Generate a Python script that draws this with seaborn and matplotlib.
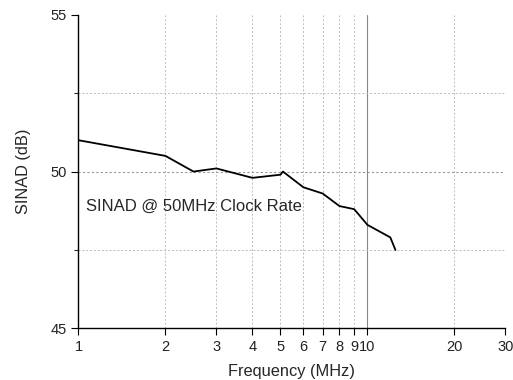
import matplotlib
matplotlib.use("Agg")
import matplotlib.pyplot as plt
import matplotlib.ticker as mticker
import pandas as pd
import seaborn as sns

# SINAD vs input frequency
freq_mhz = [1, 2, 2.5, 3, 4, 5, 5.1, 6, 7, 8, 9, 10, 12, 12.5]
sinad_db = [51.0, 50.5, 50.0, 50.1, 49.8, 49.9, 50.0, 49.5, 49.3, 48.9, 48.8, 48.3, 47.9, 47.5]
x_ticks = [1, 2, 3, 4, 5, 6, 7, 8, 9, 10, 20, 30]
x_ticklabels = ["1", "2", "3", "4", "5", "6", "7", "8", "9", "10", "20", "30"]
y_ticks = [45, 50, 55]
y_minor = [47.5, 52.5]

df = pd.DataFrame({"Frequency": freq_mhz, "SINAD": sinad_db})

sns.set_style("ticks")
plt.rcParams["font.family"] = ["Liberation Sans", "DejaVu Sans"]

fig, ax = plt.subplots(figsize=(5.13, 3.8), dpi=100)
fig.subplots_adjust(left=0.153, right=0.985, top=0.961, bottom=0.136)

# grid lines
for x in [2, 3, 4, 5, 6, 7, 8, 9, 20]:
    ax.axvline(x, color="#bbbbbb", lw=0.7, ls=(0, (2, 2)), zorder=0)
ax.axvline(10, color="#888888", lw=0.8, zorder=0)
for y in y_minor:
    ax.axhline(y, color="#bbbbbb", lw=0.7, ls=(0, (2, 2)), zorder=0)
ax.axhline(50, color="#999999", lw=0.8, ls=(0, (2, 2)), zorder=0)

sns.lineplot(data=df, x="Frequency", y="SINAD", color="black", lw=1.3, ax=ax)

ax.set_xscale("log")
ax.set_xlim(1, 30)
ax.set_ylim(45, 55)
ax.set_xticks(x_ticks)
ax.set_xticklabels(x_ticklabels)
ax.xaxis.set_minor_locator(mticker.NullLocator())
ax.set_yticks(y_ticks)
ax.set_yticks(y_minor, minor=True)

ax.tick_params(axis="both", which="major", labelsize=10.5, length=5, width=0.8,
               direction="out", colors="black")
ax.tick_params(axis="y", which="minor", length=3, width=0.8)
for lab in ax.get_xticklabels() + ax.get_yticklabels():
    lab.set_color("#222222")

sns.despine(ax=ax)
ax.spines["left"].set_linewidth(1.0)
ax.spines["bottom"].set_linewidth(1.0)
ax.spines["left"].set_color("black")
ax.spines["bottom"].set_color("black")

ax.set_xlabel("Frequency (MHz)", fontsize=11.8, labelpad=7)
ax.set_ylabel("SINAD (dB)", fontsize=11.8, labelpad=14)

ax.text(1.06, 48.9, "SINAD @ 50MHz Clock Rate", fontsize=12, va="center", ha="left")

fig.savefig("out.png", dpi=100)
